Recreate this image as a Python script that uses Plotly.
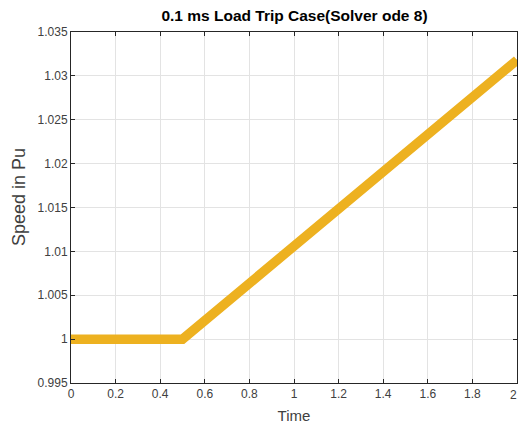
import plotly.graph_objects as go

# Rotor speed response after the load trip
time_s = [0.0, 0.5, 2.0]
speed_pu = [1.0, 1.0, 1.0318]

x_ticks = [0, 0.2, 0.4, 0.6, 0.8, 1, 1.2, 1.4, 1.6, 1.8, 2]
y_ticks = [0.995, 1, 1.005, 1.01, 1.015, 1.02, 1.025, 1.03, 1.035]

W, H = 519, 427
ML, MR, MT, MB = 71, 2, 32, 44
PW, PH = W - ML - MR, H - MT - MB
font_family = "Liberation Sans, Arial, sans-serif"
axis_grey = "#262626"
label_grey = "#404040"

fig = go.Figure()
fig.add_trace(go.Scatter(
    x=time_s, y=speed_pu, mode="lines",
    line=dict(color="#0072BD", width=1.5), showlegend=False,
))
fig.add_trace(go.Scatter(
    x=time_s, y=speed_pu, mode="lines",
    line=dict(color="#EDB120", width=9.5), showlegend=False,
))

axis_common = dict(
    showline=True, linecolor=axis_grey, linewidth=1, mirror="ticks",
    ticks="inside", ticklen=4, tickcolor=axis_grey,
    showgrid=True, gridcolor="#e3e3e3", gridwidth=1,
    zeroline=False,
    tickfont=dict(family=font_family, size=12, color=label_grey),
)

fig.update_layout(
    width=W, height=H,
    margin=dict(l=ML, r=MR, t=MT, b=MB),
    paper_bgcolor="white", plot_bgcolor="white",
    title=dict(
        text="<b>0.1 ms Load Trip Case(Solver ode 8)</b>",
        x=294.5 / W, xanchor="center",
        y=1 - 16 / H, yanchor="middle",
        font=dict(family=font_family, size=15.5, color="black"),
    ),
    xaxis=dict(
        range=[0, 2], tickvals=x_ticks[:-1],
        ticktext=[f"{v:g}" for v in x_ticks[:-1]],
        title=dict(text="Time", standoff=10,
                   font=dict(family=font_family, size=15, color=label_grey)),
        **axis_common,
    ),
    yaxis=dict(
        range=[0.995, 1.035], tickvals=y_ticks,
        ticktext=[f"{v:g}" for v in y_ticks],
        **axis_common,
    ),
)

# Y-axis title (paper coordinates are relative to the plot area)
fig.add_annotation(
    x=(18.5 - ML) / PW, y=(H - MB - 197.5) / PH, xref="paper", yref="paper",
    text="Speed in Pu", textangle=-90, showarrow=False,
    xanchor="center", yanchor="middle",
    font=dict(family=font_family, size=18, color=label_grey),
)

# Last x tick label, kept inside the page at the right edge
fig.add_annotation(
    x=x_ticks[-1], y=0, xref="x", yref="paper",
    text=f"{x_ticks[-1]:g}", showarrow=False,
    xanchor="right", yanchor="top", yshift=-3, xshift=2,
    font=dict(family=font_family, size=12, color=label_grey),
)

fig.write_html("out.html")
